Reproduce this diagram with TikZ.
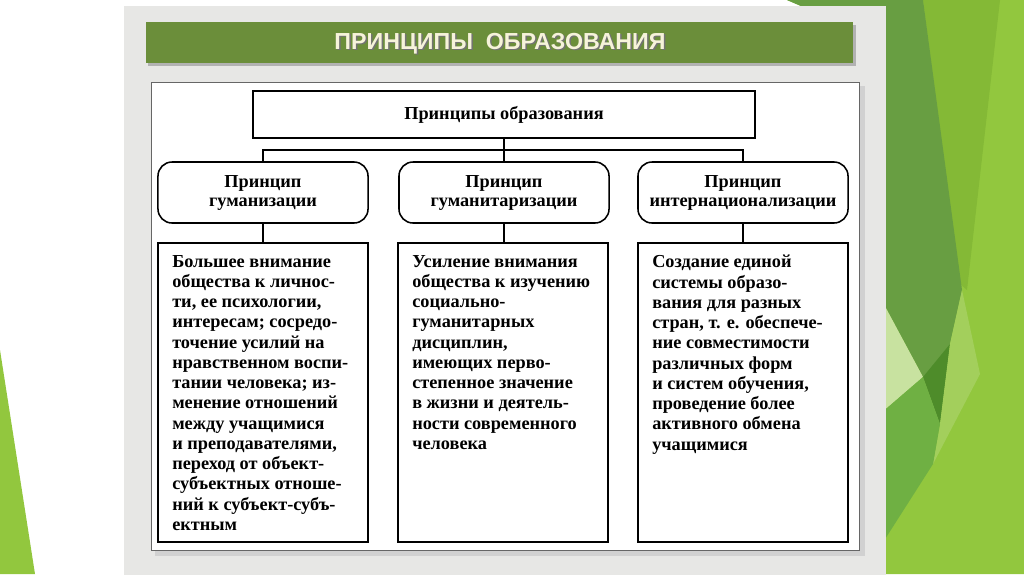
\documentclass[tikz,border=0pt]{standalone}
\usepackage{fontspec}
\setmainfont{Liberation Serif}
\newfontfamily\headfont{Liberation Sans}
\usepackage{tikz}

\definecolor{barGreen}{RGB}{107,142,58}
\definecolor{headCream}{RGB}{246,243,218}
\definecolor{panelGray}{RGB}{231,231,229}
\definecolor{gLight}{RGB}{146,199,62}
\definecolor{gTop}{RGB}{132,185,54}
\definecolor{gDark}{RGB}{104,158,66}
\definecolor{gDarkest}{RGB}{78,140,42}
\definecolor{gPale}{RGB}{200,226,160}
\definecolor{gMidLight}{RGB}{163,207,92}
\definecolor{gMid}{RGB}{111,176,67}

\tikzset{
  box/.style={draw, line width=1.1pt, inner sep=0pt, outer sep=0pt, minimum width=5.25cm},
  kind/.style={box, rounded corners=10pt, minimum height=1.525cm, align=center,
    font=\fontsize{13}{13.5}\selectfont\bfseries},
  descbox/.style={box, minimum height=7.475cm},
  desc/.style={inner sep=0pt, align=left, font=\fontsize{13}{14.4}\selectfont\bfseries},
}

\begin{document}
\begin{tikzpicture}[x=0.025cm, y=-0.025cm]
    \useasboundingbox (0,0) rectangle (1024,574);
    \fill[white] (0,0) rectangle (1024,574);

    % slide background
    \fill[gLight] (0,350) -- (35,574) -- (0,574) -- cycle;
    \fill[gLight] (787,0) -- (1024,0) -- (1024,574) -- (880,574) -- (880,40) -- cycle;
    \fill[gTop] (923,0) -- (1000,0) -- (967,290) -- (960,284) -- cycle;
    \fill[gDark] (787,0) -- (923,0) -- (962,290) -- (950,344) -- (940,424) -- (923,377) -- (880,297) -- (880,40) -- cycle;
    \fill[gPale] (880,297) -- (923,377) -- (880,414) -- cycle;
    \fill[gDarkest] (923,377) -- (950,344) -- (940,424) -- cycle;
    \fill[gMidLight] (962,290) -- (980,374) -- (933,464) -- (940,424) -- (950,344) -- cycle;
    \fill[gMid] (880,414) -- (923,377) -- (940,424) -- (933,464) -- (880,547) -- cycle;

    % panel and header
    \fill[panelGray] (124,6) rectangle (886,580);
    \fill[black!30] (148,25) rectangle (856,66);
    \fill[barGreen] (146,22) rectangle (853,63);
    \node(headshadow)[text=black!55, font=\headfont\fontsize{16.5}{18}\selectfont\bfseries] at (501.5,45) {ПРИНЦИПЫ\ \ ОБРАЗОВАНИЯ};
    \node(head)[text=headCream, font=\headfont\fontsize{16.5}{18}\selectfont\bfseries] at (500,44) {ПРИНЦИПЫ\ \ ОБРАЗОВАНИЯ};
    \fill[black!18] (155,86) rectangle (865,556);
    \draw[fill=white, draw=black!60, line width=0.6pt] (151,82) rectangle (859,550);

    % scheme
    \node(top)[box, minimum width=12.55cm, minimum height=1.175cm, font=\fontsize{13}{14.4}\selectfont\bfseries] at (504,114.5) {Принципы образования};
    \node(p1)[kind] at (263,192.5) {Принцип\\гуманизации};
    \node(p2)[kind] at (504,192.5) {Принцип\\гуманитаризации};
    \node(p3)[kind] at (743,192.5) {Принцип\\интернационализации};
    \node(d1)[descbox] at (263,392.5) {};
    \node(d2)[descbox] at (503,392.5) {};
    \node(d3)[descbox] at (743,392.5) {};
    \coordinate(bus) at (504,150);
    \draw[line width=1.1pt] (top.south) -- (p2.north);
    \draw[line width=1.1pt] (p1.north) |- (bus) -| (p3.north);
    \draw[line width=1.1pt] (p1.south) -- (d1.north);
    \draw[line width=1.1pt] (p2.south) -- (p2.south |- d2.north);
    \draw[line width=1.1pt] (p3.south) -- (d3.north);

    \node(t1)[desc, anchor=north west] at ([shift={(14,12)}]d1.north west) {Большее внимание\\общества к личнос-\\ти, ее психологии,\\интересам; сосредо-\\точение усилий на\\нравственном воспи-\\тании человека; из-\\менение отношений\\между учащимися\\и преподавателями,\\переход от объект-\\субъектных отноше-\\ний к субъект-субъ-\\ектным};
    \node(t2)[desc, anchor=north west] at ([shift={(14,12)}]d2.north west) {Усиление внимания\\общества к изучению\\социально-\\гуманитарных\\дисциплин,\\имеющих перво-\\степенное значение\\в жизни и деятель-\\ности современного\\человека};
    \node(t3)[desc, anchor=north west] at ([shift={(14,12)}]d3.north west) {Создание единой\\системы образо-\\вания для разных\\стран, т. е. обеспече-\\ние совместимости\\различных форм\\и систем обучения,\\проведение более\\активного обмена\\учащимися};
\end{tikzpicture}
\end{document}
